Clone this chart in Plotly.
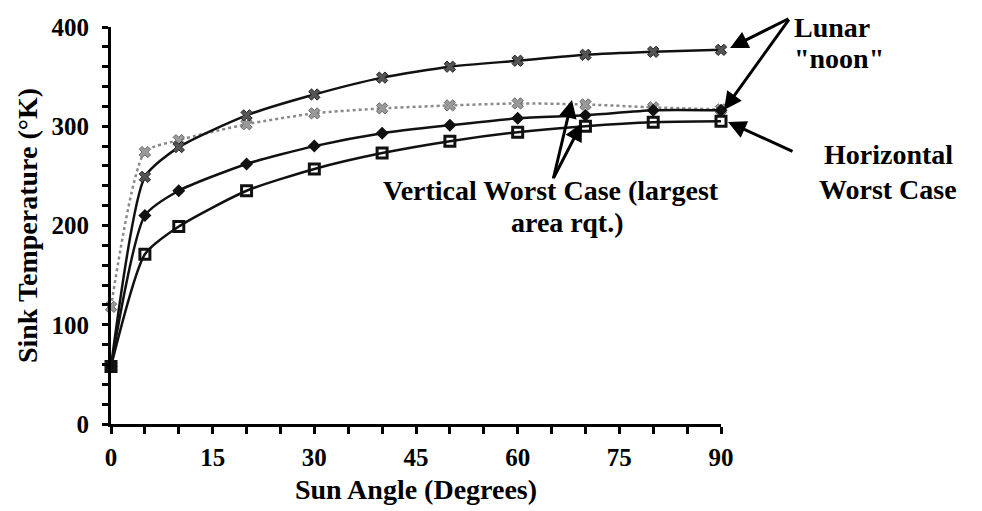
import plotly.graph_objects as go

# Data
sun_angle = [0, 5, 10, 20, 30, 40, 50, 60, 70, 80, 90]
series_cross_black = [58, 249, 279, 311, 332, 349, 360, 366, 372, 375, 377]
series_cross_gray = [118, 274, 286, 302, 313, 318, 321, 323, 322, 319, 317]
series_diamond = [58, 210, 235, 262, 280, 293, 301, 308, 311, 316, 316]
series_square = [58, 171, 199, 235, 257, 273, 285, 294, 300, 304, 305]

x_ticks = [0, 15, 30, 45, 60, 75, 90]
y_ticks = [0, 100, 200, 300, 400]

FONT = "Liberation Serif"

fig = go.Figure()

fig.add_trace(go.Scatter(
    x=sun_angle, y=series_cross_gray, mode="lines+markers",
    line=dict(color="#8a8a8a", width=2.5, dash="dot", shape="spline", smoothing=0.6),
    marker=dict(symbol="x", size=10, color="#9a9a9a", line=dict(color="#6a6a6a", width=1)),
    name="Lunar noon (lower)", showlegend=False, cliponaxis=False))
fig.add_trace(go.Scatter(
    x=sun_angle, y=series_cross_black, mode="lines+markers",
    line=dict(color="#111111", width=2.5, shape="spline", smoothing=0.6),
    marker=dict(symbol="x", size=10, color="#555555", line=dict(color="#222222", width=1)),
    name="Lunar noon (upper)", showlegend=False, cliponaxis=False))
fig.add_trace(go.Scatter(
    x=sun_angle, y=series_diamond, mode="lines+markers",
    line=dict(color="#111111", width=2.5, shape="spline", smoothing=0.6),
    marker=dict(symbol="diamond", size=10, color="#111111"),
    name="Vertical Worst Case", showlegend=False, cliponaxis=False))
fig.add_trace(go.Scatter(
    x=sun_angle, y=series_square, mode="lines+markers",
    line=dict(color="#111111", width=2.5, shape="spline", smoothing=0.6),
    marker=dict(symbol="square-open", size=10, color="#111111", line=dict(width=3)),
    name="Horizontal Worst Case", showlegend=False, cliponaxis=False))

txt_font = dict(family=FONT, size=28, color="black", weight="bold")

# Text labels (paper coordinates relative to the plot area)
labels = [
    ("Lunar", 1.1164, 1.0000, "left"),
    ('"noon"', 1.1164, 0.9194, "left"),
    ("Horizontal", 1.2738, 0.6776, "center"),
    ("Worst Case", 1.2738, 0.5919, "center"),
    ("Vertical Worst Case (largest", 0.7213, 0.5894, "center"),
    ("area rqt.)", 0.7484, 0.5088, "center"),
]
for text, px, py, anchor in labels:
    fig.add_annotation(x=px, y=py, xref="paper", yref="paper", text=text,
                       showarrow=False, xanchor=anchor, yanchor="middle", font=txt_font)

# Arrows (tip in paper coords, tail offset in pixels)
arrow_kw = dict(xref="paper", yref="paper", text="", showarrow=True, arrowhead=2,
                arrowsize=1.2, arrowwidth=3, arrowcolor="black", standoff=0)
arrows = [
    (1.0148, 0.9471, 60, -30),
    (1.0049, 0.7909, 66, -92),
    (1.0115, 0.7607, 66, 30),
    (0.7557, 0.8161, -19, 80),
    (0.7721, 0.7582, -29, 56),
]
for tx, ty, axp, ayp in arrows:
    fig.add_annotation(x=tx, y=ty, ax=axp, ay=ayp, **arrow_kw)

tick_font = dict(family=FONT, size=25, color="black", weight="bold")
title_font = dict(family=FONT, size=28, color="black", weight="bold")

fig.update_xaxes(
    range=[0, 90], tickvals=x_ticks, ticktext=[str(v) for v in x_ticks],
    showline=True, linecolor="black", linewidth=3, mirror=False,
    ticks="outside", ticklen=7, tickwidth=3, tickcolor="black", ticklabelstandoff=2,
    minor=dict(dtick=5, ticks="outside", ticklen=7, tickwidth=3, tickcolor="black"),
    showgrid=False, zeroline=False, tickfont=tick_font,
    title=dict(text="Sun Angle (Degrees)", font=title_font, standoff=10))
fig.update_yaxes(
    range=[0, 400], tickvals=y_ticks, ticktext=[str(v) for v in y_ticks],
    showline=True, linecolor="black", linewidth=3, mirror=False,
    ticks="outside", ticklen=6, tickwidth=3, tickcolor="black", ticklabelstandoff=8,
    minor=dict(dtick=20, ticks="outside", ticklen=6, tickwidth=3, tickcolor="black"),
    showgrid=False, zeroline=False, tickfont=tick_font,
    title=dict(text="Sink Temperature (°K)", font=title_font, standoff=6))

fig.update_layout(
    width=982, height=511,
    margin=dict(l=103, r=269, t=19, b=95, autoexpand=False),
    paper_bgcolor="white", plot_bgcolor="white",
    font=dict(family=FONT, color="black"),
    showlegend=False)

fig.write_html("out.html")
